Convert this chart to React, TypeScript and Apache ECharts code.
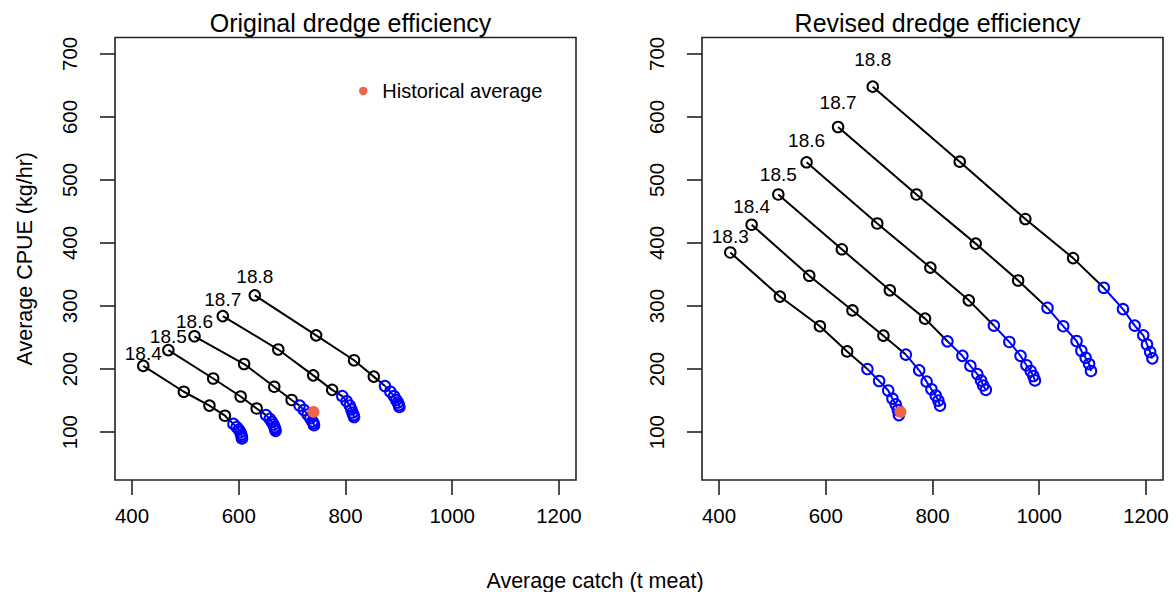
import React, { useEffect, useRef } from "react";
import * as echarts from "echarts";

// ---------- data ----------
const xTicks = [400, 600, 800, 1000, 1200];
const yTicks = [100, 200, 300, 400, 500, 600, 700];
const BLACK_COUNT = 4;

// Original dredge efficiency (left panel)
const origLabels = ["18.4", "18.5", "18.6", "18.7", "18.8"];
const orig184x = [421, 497, 545, 574, 590, 596, 600, 603, 604.5, 605.5, 606];
const orig184y = [205, 164, 142, 126, 113, 108, 104, 100, 96, 93, 90];
const orig185x = [468, 552, 603.5, 633.5, 651, 658, 662, 665, 667, 668, 669];
const orig185y = [230, 185, 156.5, 137.5, 127, 121, 116, 112, 108, 105, 102];
const orig186x = [517, 610, 666.5, 699, 714, 722, 729, 734, 738, 740, 741];
const orig186y = [252, 208, 172, 151, 142, 135, 128, 122, 117, 114, 111];
const orig187x = [570, 674, 739.5, 775, 794, 802, 808, 811, 813, 815, 816];
const orig187y = [284, 231, 190, 167, 157, 149, 142, 136, 131, 127, 124];
const orig188x = [630, 745, 816, 853, 874, 884, 891, 895, 898, 900, 901];
const orig188y = [317, 253.5, 214, 188, 173, 164, 157, 151, 147, 143, 140];

// Revised dredge efficiency (right panel)
const revLabels = ["18.3", "18.4", "18.5", "18.6", "18.7", "18.8"];
const rev183x = [421, 514, 589, 640, 678, 700, 717, 725, 731, 735, 737];
const rev183y = [385, 315, 268, 228, 200, 181, 166, 153, 144, 135, 127];
const rev184x = [461, 569, 650, 708, 750, 775, 789, 798, 806, 811, 814];
const rev184y = [429, 348, 293, 253, 223, 198, 180, 168, 158, 150, 142];
const rev185x = [511, 630, 720, 786, 828, 856, 871, 884, 891, 895, 900];
const rev185y = [477, 390, 325, 280, 244, 221, 205, 192, 182, 174, 167];
const rev186x = [564, 696.5, 796, 868, 915, 944, 965, 976, 984, 989, 992];
const rev186y = [528, 431, 361, 309, 269, 243, 221, 206, 197, 189, 182];
const rev187x = [623, 770, 881, 960.5, 1015.5, 1045, 1070, 1079, 1087, 1093.5, 1097];
const rev187y = [584, 477, 399, 340.5, 297, 268, 244.5, 229, 218, 208, 197];
const rev188x = [688, 851, 974, 1063.5, 1121, 1157, 1179, 1195, 1202, 1208, 1212];
const rev188y = [648, 529, 438, 376, 329, 295, 269, 253.5, 239, 227, 217];

const historicalAverage = [740, 132];

const origX = [orig184x, orig185x, orig186x, orig187x, orig188x];
const origY = [orig184y, orig185y, orig186y, orig187y, orig188y];
const revX = [rev183x, rev184x, rev185x, rev186x, rev187x, rev188x];
const revY = [rev183y, rev184y, rev185y, rev186y, rev187y, rev188y];

// ---------- styling ----------
const FONT = "Liberation Sans, Arial, Helvetica, sans-serif";
const BLUE = "#0000FF";
const RED = "#EB6648";

function panelSeries(gi: number, labels: string[], xs: number[][], ys: number[][], labelFactor: number) {
  const series: any[] = [];
  labels.forEach((lab, k) => {
    const pts = xs[k].map((v, i) => [v, ys[k][i]]);
    series.push({
      type: "line", xAxisIndex: gi, yAxisIndex: gi, symbol: "none", silent: true,
      data: pts.slice(0, BLACK_COUNT + 1),
      lineStyle: { color: "#000", width: 2 }, z: 2,
    });
    series.push({
      type: "line", xAxisIndex: gi, yAxisIndex: gi, symbol: "none", silent: true,
      data: pts.slice(BLACK_COUNT),
      lineStyle: { color: BLUE, width: 2 }, z: 2,
    });
    series.push({
      type: "scatter", xAxisIndex: gi, yAxisIndex: gi, symbol: "circle", symbolSize: 10.5, silent: true,
      data: pts.slice(0, BLACK_COUNT),
      itemStyle: { color: "rgba(0,0,0,0)", borderColor: "#000", borderWidth: 2, opacity: 1 }, z: 3,
    });
    series.push({
      type: "scatter", xAxisIndex: gi, yAxisIndex: gi, symbol: "circle", symbolSize: 10.5, silent: true,
      data: pts.slice(BLACK_COUNT),
      itemStyle: { color: "rgba(0,0,0,0)", borderColor: BLUE, borderWidth: 2, opacity: 1 }, z: 3,
    });
    series.push({
      type: "scatter", xAxisIndex: gi, yAxisIndex: gi, symbolSize: 1, silent: true,
      data: [{ value: [pts[0][0], pts[0][1] * labelFactor], name: lab }],
      itemStyle: { color: "rgba(0,0,0,0)", opacity: 1 },
      label: {
        show: true, position: "inside", formatter: "{b}", color: "#000", fontSize: 19, fontFamily: FONT,
        textBorderWidth: 0, textBorderColor: "transparent",
      },
      z: 4,
    });
  });
  series.push({
    type: "scatter", name: "Historical average", xAxisIndex: gi, yAxisIndex: gi, symbol: "circle",
    symbolSize: 12, data: [historicalAverage], itemStyle: { color: RED, opacity: 1 }, z: 5, silent: true,
  });
  return series;
}

const plainNumber = (v: number) => String(v);

function xAxis(gi: number) {
  return {
    type: "value", gridIndex: gi, min: 368, max: 1232,
    axisLine: { show: false }, splitLine: { show: false },
    axisTick: { show: true, length: 15, customValues: xTicks, lineStyle: { color: "#222", width: 1.6 } },
    axisLabel: { customValues: xTicks, formatter: plainNumber, fontSize: 20.5, color: "#000", margin: 25, fontFamily: FONT },
  };
}
function yAxis(gi: number, withName: boolean) {
  return {
    type: "value", gridIndex: gi, min: 24, max: 726,
    axisLine: { show: false }, splitLine: { show: false },
    axisTick: { show: true, length: 15, customValues: yTicks, lineStyle: { color: "#222", width: 1.6 } },
    axisLabel: { customValues: yTicks, formatter: plainNumber, fontSize: 20.5, color: "#000", margin: 35, rotate: 90, fontFamily: FONT },
    name: withName ? "Average CPUE (kg/hr)" : "",
    nameLocation: "middle", nameGap: 79,
    nameTextStyle: { fontSize: 21.5, color: "#000", fontFamily: FONT },
  };
}

export default function App() {
  const ref = useRef<HTMLDivElement>(null);
  useEffect(() => {
    if (!ref.current) return;
    const chart = echarts.init(ref.current, undefined, { renderer: "svg" });
    const grids = [
      { left: 115, top: 37.5, width: 461, height: 442.5 },
      { left: 702, top: 37.5, width: 461, height: 442.5 },
    ].map((g) => ({ ...g, show: true, borderColor: "#222", borderWidth: 1.6, backgroundColor: "transparent" }));
    chart.setOption({
      animation: false,
      backgroundColor: "#fff",
      title: [
        { text: "Original dredge efficiency", left: 345.5, top: 5, textAlign: "center",
          textStyle: { fontSize: 25, fontWeight: "normal", color: "#000", fontFamily: FONT } },
        { text: "Revised dredge efficiency", left: 932.5, top: 5, textAlign: "center",
          textStyle: { fontSize: 25, fontWeight: "normal", color: "#000", fontFamily: FONT } },
        { text: "Average catch (t meat)", left: 590, top: 565, textAlign: "center",
          textStyle: { fontSize: 21.5, fontWeight: "normal", color: "#000", fontFamily: FONT } },
      ],
      legend: {
        data: ["Historical average"], left: 359, top: 81, padding: 0, icon: "circle",
        itemWidth: 28, itemHeight: 8.5, selectedMode: false,
        itemStyle: { opacity: 1 },
        textStyle: { fontSize: 20, color: "#000", fontFamily: FONT },
      },
      grid: grids,
      xAxis: [xAxis(0), xAxis(1)],
      yAxis: [yAxis(0, true), yAxis(1, false)],
      series: [
        ...panelSeries(0, origLabels, origX, origY, 1.095),
        ...panelSeries(1, revLabels, revX, revY, 1.066),
      ],
    });
    return () => chart.dispose();
  }, []);
  return <div ref={ref} style={{ position: "absolute", left: 0, top: 0, width: 1176, height: 592 }} />;
}
